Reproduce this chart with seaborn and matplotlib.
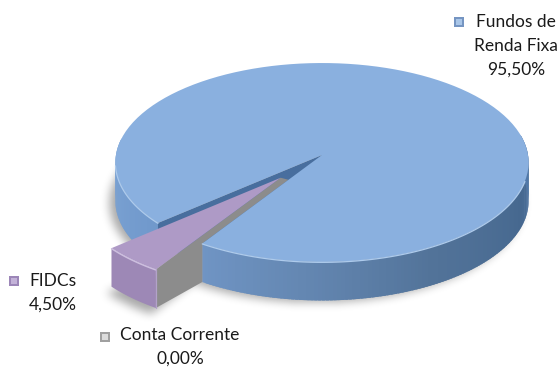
import numpy as np
import matplotlib
matplotlib.use("Agg")
import matplotlib.pyplot as plt
from matplotlib.path import Path
import seaborn as sns

categories = ["Fundos de\nRenda Fixa", "FIDCs", "Conta Corrente"]
shares = [95.50, 4.50, 0.00]
top_colors = ["#8AB0DF", "#AE9AC6", "#8C8C8C"]
key_colors = ["#7595C2", "#9C86B8", "#A0A0A0"]
key_light = ["#A9C6E8", "#C3B2D8", "#DCDCDC"]

# Projection of the pie disc onto the page, in pixels
CX, CY, RX, KY, PERSP, DEPTH = 322.0, 155.0, 206.0, 98.9, 0.0753, 38.5
FIDC_START = 220.8
EXPLODE = 0.30


def project(u, v, drop=0.0):
    u, v = np.asarray(u, float), np.asarray(v, float)
    w = 1 + PERSP * v
    return CX + RX * u / w, CY - KY * v / w + drop


def rim(a0, a1, drop=0.0, n=120, du=0.0, dv=0.0):
    t = np.radians(np.linspace(a0, a1, n))
    return project(np.cos(t) + du, np.sin(t) + dv, drop)


def sector(a0, a1, drop=0.0, du=0.0, dv=0.0):
    x, y = rim(a0, a1, drop, du=du, dv=dv)
    ax0, ay0 = project(du, dv, drop)
    return np.r_[ax0, x], np.r_[ay0, y]


sns.set_theme(style="white")
plt.rcParams["font.family"] = ["Lato", "DejaVu Sans"]

fig = plt.figure(figsize=(5.6, 3.67), dpi=100)
ax = fig.add_axes([0, 0, 1, 1])

# Sweep of each slice derived from its share
fidc_sweep = shares[1] * 3.6
fidc_end = FIDC_START + fidc_sweep
corr_end = fidc_end + shares[2] * 3.6
blue_end = FIDC_START + 360
mid = np.radians(FIDC_START + fidc_sweep / 2)
du, dv = EXPLODE * np.cos(mid), EXPLODE * np.sin(mid)

# Soft drop shadow beneath the solid
gx, gy = np.meshgrid(np.arange(560) + 0.5, np.arange(367) + 0.5)
grid = np.c_[gx.ravel(), gy.ravel()]
bx, by = rim(0, 360, DEPTH + 2)
fx0, fy0 = sector(FIDC_START, fidc_end, DEPTH + 6, du=du, dv=dv)
mask = Path(np.c_[bx - 6, by]).contains_points(grid) | Path(np.c_[fx0 - 5, fy0]).contains_points(grid)
soft = mask.reshape(gx.shape).astype(float)
for _ in range(3):
    for axis in (0, 1):
        soft = sum(np.roll(soft, s, axis=axis) for s in range(-4, 5)) / 9
shade = np.zeros(soft.shape + (4,))
shade[..., 3] = soft * 0.34
ax.imshow(shade, extent=(0, 560, 367, 0), aspect="auto", zorder=0)

# Outer wall of the large slice, shaded around the rim
stops = [170, 218, 234, 265, 300, 340, 360, 372]
stop_rgb = np.array([matplotlib.colors.to_rgb(c) for c in
                     ["#7FA6D6", "#7199CC", "#7196C6", "#6487B2", "#527399", "#46688F", "#4F76A6", "#5A82B4"]])


def wall(a0, a1):
    edges = np.arange(a0, a1 + 1.0, 1.0)
    for s, e in zip(edges[:-1], edges[1:]):
        # slight overlap hides seams between neighbouring strips
        x, y = rim(s, min(e + 0.8, a1), n=4)
        xb, yb = rim(min(e + 0.8, a1), s, DEPTH, n=4)
        c = [np.interp((s + e) / 2, stops, stop_rgb[:, i]) for i in range(3)]
        ax.fill(np.r_[x, xb], np.r_[y, yb], color=c, lw=0, zorder=1)


wall(170, FIDC_START)
wall(fidc_end, 372)

# Inner cut wall of the large slice
ex, ey = project(np.cos(np.radians(FIDC_START)), np.sin(np.radians(FIDC_START)))
ax.fill([CX, ex, ex, CX], [CY, ey, ey + DEPTH, CY + DEPTH], color="#486E9E", lw=0, zorder=2)

# Top face of the large slice
tx, ty = sector(corr_end, blue_end)
ax.fill(tx, ty, color=top_colors[0], lw=0, zorder=4)

# Pale bevel along the front rim
for a0, a1 in ((corr_end, 345), (186, FIDC_START)):
    hx, hy = rim(a0, a1, 0.4)
    sns.lineplot(x=hx, y=hy, sort=False, estimator=None, color="#AECBEC", lw=0.9, ax=ax, zorder=5)

# Exploded slice: corners follow from its share
x0, y0 = project(du, dv)
xa, ya = rim(FIDC_START, fidc_end, du=du, dv=dv)
xb, yb = rim(fidc_end, FIDC_START, DEPTH, du=du, dv=dv)

# Grey cut face belonging to the empty slice, up against the large slice's edge
bx2, by2 = project(np.cos(np.radians(fidc_end)), np.sin(np.radians(fidc_end)))
nx, ny = CX + 0.28 * (bx2 - CX), CY + 0.28 * (by2 - CY)
ax.fill([xa[-1], x0, nx, bx2, bx2, xb[0]],
        [ya[-1], y0, ny, by2, by2 + DEPTH, yb[0]],
        color=top_colors[2], lw=0, zorder=3)

ax.fill(np.r_[xa, xb], np.r_[ya, yb], color="#9D88B6", lw=0, zorder=7)
ax.fill(np.r_[x0, xa], np.r_[y0, ya], color=top_colors[1], lw=0, zorder=8)
sns.lineplot(x=xa, y=ya + 0.5, sort=False, estimator=None, color="#CDBFDF", lw=1.0, ax=ax, zorder=9)
sns.lineplot(x=[xa[-1], xb[0]], y=[ya[-1], yb[0]], sort=False, estimator=None,
             color="#B3A2CA", lw=0.9, ax=ax, zorder=9)

# Data labels with their colour keys
label_pos = [(516, 46), (53, 293), (180, 347)]
key_pos = [(459, 22), (14, 281), (105, 337)]
for name, share, (lx, ly), (kx, ky), c, cl in zip(categories, shares, label_pos, key_pos, key_colors, key_light):
    sns.scatterplot(x=[kx], y=[ky], marker="s", s=50, color=c, linewidth=0, ax=ax, zorder=10)
    sns.scatterplot(x=[kx], y=[ky - 0.5], marker="s", s=16, color=cl, linewidth=0, ax=ax, zorder=11)
    text = name + "\n" + f"{share:.2f}%".replace(".", ",")
    ax.text(lx, ly, text, ha="center", va="center", fontsize=12.5, color="#1A1A1A",
            linespacing=1.6, zorder=12)

ax.set_xlim(0, 560)
ax.set_ylim(367, 0)
ax.axis("off")
fig.savefig("out.png", dpi=100, facecolor="white")
